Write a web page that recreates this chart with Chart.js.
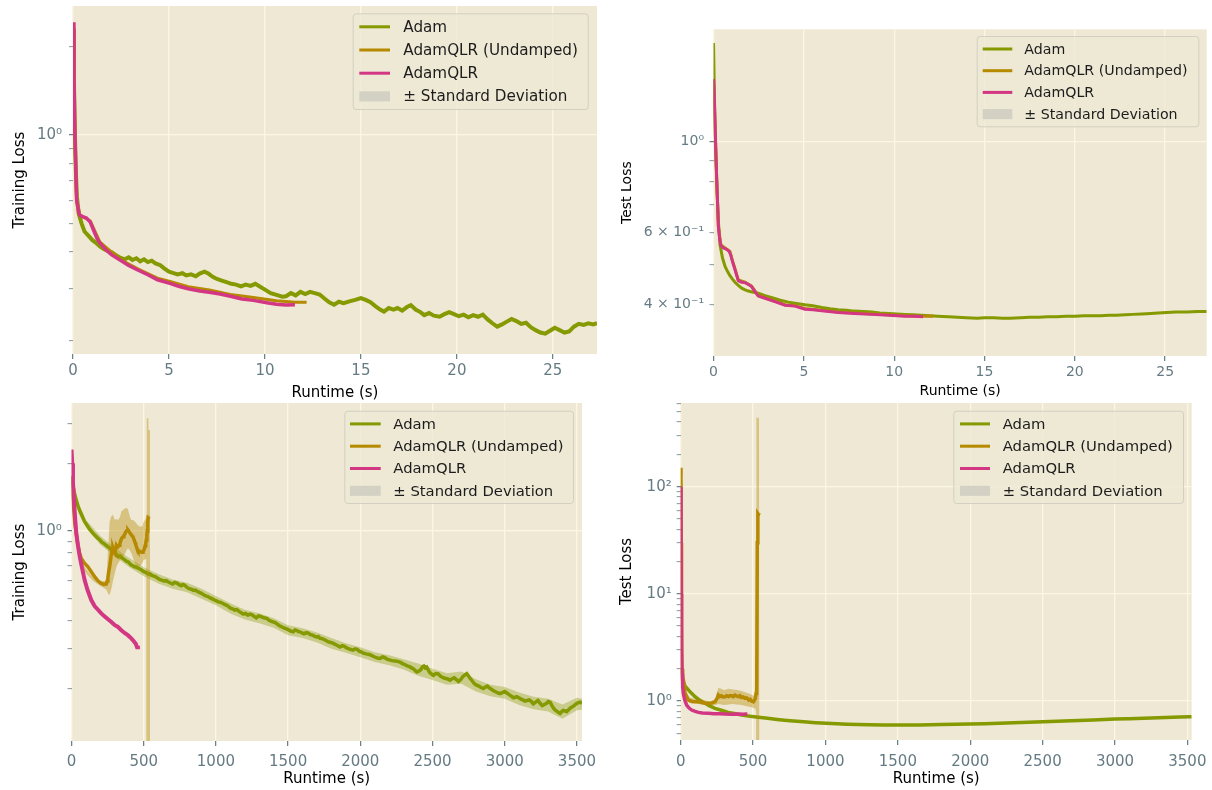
<!DOCTYPE html>
<html>
<head>
<meta charset="utf-8">
<script src="https://cdn.jsdelivr.net/npm/chart.js@4.4.1/dist/chart.umd.min.js"></script>
<style>
  body { margin: 0; background: #fff; width: 1212px; height: 790px; position: relative; overflow: hidden; }
  canvas { position: absolute; }
</style>
</head>
<body>
<script>
'use strict';

// Series names and colours (Solarize palette)
const SERIES = ['Adam', 'AdamQLR (Undamped)', 'AdamQLR'];
const LINE_COLORS = ['#859900', '#b58900', '#d33682'];
const BAND_COLORS = ['rgba(133, 153, 0, 0.35)', 'rgba(181, 137, 0, 0.4)', 'rgba(211, 54, 130, 0.3)'];
const STD_LABEL = '± Standard Deviation';
const STD_COLOR = '#d3d0c4';
const FONT = "'DejaVu Sans', sans-serif";
const TICK_COLOR = '#657b83';
const GRID_COLOR = '#fdf6e3';
const PLOT_BG = '#eee8d5';
const X_TITLE = 'Runtime (s)';

// ---- Axis ticks ----
const shortXTicks = [0, 5, 10, 15, 20, 25];
const longXTicks = [0, 500, 1000, 1500, 2000, 2500, 3000, 3500];

const p1YTicks = [0.2, 0.3, 0.4, 0.5, 0.6, 0.7, 0.8, 0.9, 1, 2];
const p1YLabels = ['', '', '', '', '', '', '', '', '10⁰', ''];
const p2YTicks = [0.4, 0.5, 0.6, 0.7, 0.8, 0.9, 1];
const p2YLabels = ['4 × 10⁻¹', '', '6 × 10⁻¹', '', '', '', '10⁰'];
const p3YTicks = [0.2, 0.3, 0.4, 0.5, 0.6, 0.7, 0.8, 0.9, 1, 2, 3];
const p3YLabels = ['', '', '', '', '', '', '', '', '10⁰', '', ''];
const p4YTicks = [0.5, 0.6, 0.7, 0.8, 0.9, 1, 2, 3, 4, 5, 6, 7, 8, 9, 10, 20, 30, 40, 50, 60, 70, 80, 90, 100, 200, 300, 400, 500, 600];
const p4YLabels = ['', '', '', '', '', '10⁰', '', '', '', '', '', '', '', '', '10¹', '', '', '', '', '', '', '', '', '10²', '', '', '', '', ''];
const gridAtOne = [1];
const gridDecades = [1, 10, 100];

// ---- Top-left: training loss, short run ([runtime, loss]) ----
const p1Adam = [[0,2.3],[0.05,1.5],[0.1,1.0],[0.15,0.75],[0.2,0.62],[0.3,0.54],[0.45,0.5],[0.6,0.47],[0.8,0.455],[1.0,0.44],[1.2,0.43],[1.4,0.418],[1.6,0.41],[1.8,0.404],[2.0,0.4],[2.2,0.392],[2.45,0.383],[2.7,0.378],[2.9,0.384],[3.1,0.376],[3.3,0.381],[3.5,0.372],[3.7,0.378],[3.9,0.37],[4.1,0.374],[4.3,0.366],[4.55,0.361],[4.75,0.352],[5.0,0.343],[5.2,0.34],[5.45,0.336],[5.7,0.339],[5.9,0.333],[6.15,0.336],[6.4,0.331],[6.6,0.338],[6.85,0.343],[7.05,0.338],[7.3,0.329],[7.5,0.324],[7.75,0.32],[8.0,0.316],[8.25,0.312],[8.5,0.31],[8.75,0.306],[9.0,0.31],[9.25,0.307],[9.5,0.312],[9.75,0.305],[10.0,0.298],[10.3,0.29],[10.6,0.286],[10.9,0.282],[11.1,0.283],[11.35,0.29],[11.6,0.285],[11.85,0.293],[12.1,0.288],[12.35,0.293],[12.6,0.29],[12.85,0.287],[13.1,0.278],[13.35,0.27],[13.6,0.265],[13.85,0.271],[14.1,0.268],[14.4,0.272],[14.7,0.275],[15.0,0.279],[15.25,0.275],[15.5,0.27],[15.75,0.262],[16.0,0.255],[16.2,0.251],[16.45,0.258],[16.7,0.255],[16.9,0.258],[17.15,0.253],[17.4,0.26],[17.6,0.264],[17.85,0.255],[18.1,0.25],[18.3,0.244],[18.55,0.248],[18.8,0.243],[19.1,0.241],[19.35,0.246],[19.6,0.25],[19.85,0.246],[20.1,0.242],[20.35,0.245],[20.6,0.24],[20.85,0.244],[21.1,0.241],[21.35,0.245],[21.6,0.236],[21.85,0.229],[22.1,0.223],[22.35,0.227],[22.6,0.232],[22.85,0.237],[23.1,0.233],[23.35,0.228],[23.6,0.23],[23.85,0.222],[24.1,0.217],[24.35,0.213],[24.6,0.211],[24.85,0.216],[25.1,0.221],[25.35,0.217],[25.6,0.213],[25.85,0.215],[26.1,0.223],[26.35,0.228],[26.6,0.226],[26.85,0.229],[27.1,0.227],[27.3,0.229]];
const p1Undamped = [[0,2.3],[0.1,0.98],[0.19,0.6],[0.36,0.535],[0.9,0.51],[1.41,0.432],[2.45,0.378],[3.4,0.35],[4.4,0.326],[5.05,0.318],[6.0,0.305],[7.1,0.297],[8.2,0.287],[9.4,0.28],[10.6,0.273],[11.56,0.27],[12.17,0.27]];
const p1Qlr = [[0,2.42],[0.05,1.6],[0.1,1.0],[0.19,0.6],[0.3,0.545],[0.36,0.534],[0.5,0.528],[0.7,0.522],[0.9,0.506],[1.1,0.47],[1.25,0.445],[1.41,0.429],[1.7,0.408],[2.0,0.392],[2.45,0.376],[2.9,0.36],[3.4,0.347],[3.9,0.335],[4.4,0.322],[5.05,0.313],[5.5,0.306],[6.0,0.3],[6.6,0.295],[7.1,0.292],[7.66,0.288],[8.2,0.283],[8.8,0.277],[9.4,0.274],[10.1,0.269],[10.6,0.266],[11.1,0.264],[11.56,0.265]];

// ---- Top-right: test loss, short run ----
const p2Adam = [[0,1.74],[0.05,1.3],[0.1,1.0],[0.2,0.75],[0.28,0.63],[0.36,0.56],[0.5,0.52],[0.64,0.496],[0.78,0.482],[0.91,0.471],[1.05,0.462],[1.19,0.454],[1.37,0.446],[1.56,0.439],[1.75,0.435],[1.93,0.432],[2.2,0.429],[2.48,0.427],[2.85,0.421],[3.2,0.417],[3.65,0.411],[4.14,0.406],[4.6,0.403],[5.06,0.4],[5.5,0.398],[6.0,0.394],[6.45,0.391],[6.9,0.389],[7.35,0.388],[7.8,0.386],[8.3,0.385],[8.76,0.384],[9.2,0.382],[9.7,0.381],[10.15,0.38],[10.6,0.379],[11.05,0.378],[11.5,0.377],[12.0,0.376],[12.4,0.375],[13.0,0.374],[13.5,0.373],[14.0,0.372],[14.6,0.371],[15.0,0.372],[15.5,0.372],[16.0,0.371],[16.4,0.371],[17.0,0.372],[17.5,0.373],[18.0,0.373],[18.5,0.374],[19.0,0.374],[19.5,0.375],[20.0,0.375],[20.5,0.376],[21.0,0.376],[21.4,0.376],[21.9,0.377],[22.3,0.377],[22.8,0.378],[23.2,0.379],[23.7,0.38],[24.2,0.381],[24.6,0.382],[25.1,0.383],[25.6,0.384],[26.2,0.384],[26.8,0.385],[27.3,0.385]];
const p2Undamped = [[0,1.42],[0.1,1.05],[0.18,0.806],[0.27,0.621],[0.41,0.56],[0.7,0.548],[0.91,0.54],[1.05,0.512],[1.19,0.49],[1.37,0.46],[1.74,0.454],[2.11,0.444],[2.48,0.421],[2.85,0.416],[3.4,0.408],[3.96,0.4],[4.51,0.398],[5.06,0.392],[6.0,0.388],[6.9,0.384],[7.8,0.382],[8.76,0.38],[9.7,0.378],[10.6,0.376],[11.6,0.375],[12.15,0.375]];
const p2Qlr = [[0,1.42],[0.04,1.3],[0.1,1.05],[0.18,0.806],[0.27,0.621],[0.35,0.575],[0.41,0.558],[0.55,0.55],[0.7,0.547],[0.85,0.541],[0.95,0.53],[1.05,0.51],[1.19,0.487],[1.37,0.458],[1.55,0.454],[1.74,0.453],[1.95,0.448],[2.11,0.443],[2.3,0.43],[2.48,0.42],[2.85,0.415],[3.4,0.407],[3.96,0.399],[4.51,0.397],[5.06,0.39],[5.5,0.389],[6.0,0.387],[6.9,0.383],[7.8,0.381],[8.76,0.379],[9.7,0.377],[10.6,0.375],[11.1,0.375],[11.6,0.374]];

// ---- Bottom-left: training loss, long run ----
const p3Adam = [[0,1.75],[10,1.6],[20,1.47],[33,1.37],[45,1.29],[60,1.22],[75,1.16],[91,1.1],[108,1.06],[125,1.02],[142,0.99],[160,0.96],[178,0.935],[195,0.915],[212,0.89],[230,0.875],[248,0.855],[265,0.84],[278,0.826],[290,0.81],[305,0.795],[322,0.77],[336,0.775],[350,0.76],[365,0.748],[380,0.735],[395,0.728],[410,0.71],[424,0.702],[437,0.694],[452,0.69],[470,0.68],[485,0.672],[500,0.66],[515,0.655],[530,0.645],[542,0.646],[553,0.637],[566,0.632],[580,0.628],[595,0.618],[610,0.61],[625,0.606],[640,0.6],[655,0.602],[668,0.595],[684,0.588],[700,0.582],[715,0.592],[730,0.588],[745,0.578],[760,0.572],[772,0.579],[784,0.575],[800,0.562],[815,0.555],[830,0.552],[845,0.545],[858,0.547],[870,0.54],[885,0.534],[899,0.529],[915,0.522],[930,0.515],[945,0.512],[960,0.505],[975,0.5],[990,0.494],[1003,0.49],[1015,0.485],[1030,0.483],[1045,0.478],[1060,0.472],[1075,0.468],[1088,0.462],[1100,0.455],[1115,0.452],[1130,0.446],[1145,0.448],[1160,0.44],[1175,0.434],[1190,0.428],[1205,0.431],[1222,0.423],[1236,0.428],[1250,0.425],[1265,0.417],[1280,0.412],[1295,0.42],[1310,0.418],[1330,0.412],[1352,0.41],[1366,0.403],[1380,0.398],[1395,0.395],[1410,0.392],[1425,0.386],[1440,0.38],[1455,0.376],[1470,0.372],[1485,0.369],[1500,0.365],[1518,0.36],[1536,0.357],[1548,0.364],[1560,0.362],[1570,0.358],[1582,0.357],[1596,0.353],[1610,0.35],[1625,0.354],[1640,0.352],[1655,0.347],[1670,0.345],[1685,0.341],[1700,0.338],[1710,0.34],[1721,0.334],[1735,0.333],[1750,0.33],[1765,0.326],[1780,0.322],[1795,0.32],[1810,0.318],[1822,0.315],[1835,0.312],[1847,0.309],[1859,0.306],[1875,0.31],[1890,0.308],[1905,0.303],[1920,0.3],[1935,0.298],[1950,0.296],[1965,0.3],[1980,0.298],[1992,0.293],[2005,0.291],[2022,0.287],[2040,0.285],[2055,0.284],[2070,0.282],[2085,0.279],[2100,0.276],[2118,0.273],[2137,0.272],[2153,0.276],[2170,0.274],[2185,0.27],[2200,0.268],[2220,0.266],[2240,0.265],[2258,0.264],[2275,0.262],[2292,0.258],[2310,0.255],[2325,0.252],[2340,0.25],[2355,0.247],[2370,0.244],[2381,0.24],[2391,0.237],[2405,0.239],[2420,0.243],[2430,0.25],[2440,0.252],[2450,0.247],[2460,0.249],[2470,0.242],[2480,0.236],[2493,0.232],[2506,0.229],[2522,0.233],[2540,0.232],[2555,0.227],[2570,0.224],[2585,0.222],[2600,0.221],[2610,0.22],[2621,0.218],[2635,0.221],[2650,0.223],[2665,0.219],[2680,0.215],[2695,0.219],[2710,0.226],[2724,0.23],[2737,0.233],[2748,0.228],[2760,0.222],[2775,0.216],[2790,0.21],[2805,0.207],[2820,0.205],[2836,0.202],[2852,0.2],[2866,0.203],[2880,0.205],[2895,0.201],[2910,0.198],[2925,0.195],[2940,0.193],[2955,0.191],[2967,0.19],[2983,0.192],[3000,0.194],[3015,0.191],[3030,0.188],[3045,0.185],[3060,0.182],[3072,0.183],[3083,0.184],[3097,0.182],[3110,0.18],[3125,0.178],[3140,0.176],[3155,0.177],[3170,0.178],[3185,0.175],[3198,0.171],[3214,0.174],[3230,0.177],[3245,0.172],[3260,0.168],[3275,0.17],[3290,0.172],[3302,0.175],[3314,0.174],[3327,0.168],[3340,0.163],[3352,0.16],[3365,0.158],[3375,0.156],[3383,0.155],[3395,0.158],[3405,0.16],[3418,0.159],[3429,0.158],[3442,0.161],[3455,0.164],[3468,0.166],[3480,0.168],[3490,0.17],[3500,0.172],[3510,0.173],[3521,0.174],[3535,0.172]];
// [runtime, lower, upper]
const p3AdamBand = [[0,1.7,1.8],[50,1.2,1.32],[100,1.04,1.12],[200,0.87,0.95],[300,0.77,0.84],[400,0.69,0.76],[500,0.63,0.69],[600,0.585,0.645],[700,0.555,0.61],[800,0.535,0.59],[900,0.5,0.555],[1000,0.468,0.515],[1100,0.43,0.478],[1200,0.405,0.447],[1300,0.39,0.432],[1400,0.372,0.41],[1500,0.345,0.382],[1600,0.335,0.37],[1700,0.32,0.355],[1800,0.3,0.335],[1900,0.288,0.318],[2000,0.275,0.305],[2100,0.262,0.29],[2200,0.254,0.281],[2300,0.243,0.27],[2400,0.228,0.258],[2500,0.218,0.245],[2600,0.208,0.234],[2700,0.21,0.238],[2800,0.194,0.22],[2900,0.185,0.208],[3000,0.18,0.203],[3100,0.169,0.192],[3200,0.162,0.184],[3300,0.158,0.18],[3400,0.147,0.17],[3500,0.16,0.182],[3535,0.161,0.18]];
const p3Undamped = [[0,1.75],[10,1.4],[22,1.1],[40,0.9],[55,0.8],[68,0.756],[90,0.72],[114,0.694],[137,0.66],[160,0.627],[185,0.6],[206,0.586],[225,0.58],[241,0.582],[247,0.6],[252,0.62],[258,0.66],[264,0.694],[270,0.74],[275,0.78],[281,0.82],[287,0.838],[293,0.815],[300,0.8],[305,0.83],[310,0.86],[316,0.845],[322,0.851],[329,0.865],[335,0.88],[340,0.9],[345,0.92],[351,0.935],[357,0.943],[363,0.955],[370,0.97],[375,0.99],[380,1.0],[385,1.005],[391,1.01],[398,0.995],[405,0.98],[410,0.97],[415,0.96],[420,0.95],[426,0.943],[433,0.915],[440,0.89],[445,0.87],[450,0.85],[455,0.835],[460,0.823],[467,0.815],[475,0.81],[482,0.806],[490,0.805],[495,0.81],[500,0.82],[505,0.835],[510,0.86],[514,0.88],[518,0.912],[522,0.96],[525,1.0],[528,1.08],[531,1.158],[533,1.16]];
const p3UndampedBand = [[0,1.7,1.8],[30,0.93,1.0],[60,0.72,0.75],[100,0.65,0.68],[150,0.6,0.62],[200,0.57,0.6],[241,0.55,0.6],[252,0.53,0.8],[264,0.52,1.1],[275,0.55,1.16],[287,0.6,1.18],[300,0.65,1.12],[310,0.69,1.13],[322,0.718,1.12],[335,0.74,1.15],[345,0.76,1.22],[357,0.769,1.24],[370,0.79,1.26],[380,0.82,1.27],[391,0.838,1.25],[405,0.82,1.15],[415,0.796,1.12],[426,0.76,1.12],[440,0.718,1.1],[450,0.7,1.08],[460,0.694,1.06],[475,0.7,1.045],[490,0.72,1.05],[500,0.743,1.1],[510,0.75,1.12],[518,0.75,1.15],[521,0.01,3.17],[532,0.01,3.17],[533,0.01,2.81],[544,0.01,2.81]];
const p3Qlr = [[0,2.3],[5,2.0],[10,1.65],[17,1.37],[25,1.14],[33,0.98],[45,0.86],[57,0.77],[70,0.7],[91,0.606],[110,0.55],[137,0.494],[160,0.465],[185,0.446],[206,0.431],[230,0.418],[255,0.405],[276,0.395],[300,0.382],[320,0.376],[345,0.363],[370,0.352],[390,0.345],[414,0.334],[430,0.325],[445,0.316],[454,0.305],[460,0.31]];

// ---- Bottom-right: test loss, long run ----
const p4Adam = [[0,2.0],[5,1.8],[11,1.57],[30,1.38],[53,1.27],[75,1.18],[99,1.097],[130,1.02],[168,0.952],[200,0.9],[237,0.855],[280,0.82],[329,0.784],[380,0.76],[421,0.74],[480,0.72],[536,0.705],[600,0.69],[680,0.67],[755,0.655],[850,0.64],[930,0.628],[1008,0.619],[1150,0.607],[1300,0.6],[1400,0.598],[1514,0.597],[1650,0.598],[1800,0.603],[1900,0.606],[1998,0.61],[2100,0.615],[2200,0.622],[2350,0.63],[2504,0.641],[2600,0.648],[2700,0.655],[2850,0.667],[2999,0.679],[3100,0.685],[3200,0.692],[3350,0.703],[3450,0.709],[3517,0.714],[3530,0.715]];
const p4Undamped = [[0,150],[2,120],[4,30],[6,5],[9,2.0],[14,1.7],[22,1.5],[30,1.18],[53,1.02],[80,0.99],[122,0.985],[160,0.96],[191,0.952],[215,0.96],[237,0.985],[250,1.05],[260,1.137],[270,1.1],[280,1.12],[292,1.09],[306,1.097],[318,1.12],[330,1.1],[340,1.12],[350,1.12],[362,1.1],[375,1.137],[388,1.11],[400,1.1],[410,1.12],[420,1.08],[432,1.09],[444,1.06],[456,1.07],[470,1.02],[480,1.04],[490,1.0],[502,0.985],[510,1.02],[515,1.05],[521,1.18],[525,1.3],[529,30],[533,56],[537,55],[541,57]];
const p4UndampedBand = [[0,140,180],[3,20,100],[6,3,8],[10,1.6,2.2],[30,1.1,1.3],[60,0.96,1.08],[120,0.94,1.04],[200,0.91,1.0],[240,0.92,1.02],[250,0.93,1.2],[260,0.94,1.33],[280,0.93,1.3],[300,0.92,1.26],[330,0.93,1.3],[360,0.94,1.28],[390,0.93,1.27],[420,0.92,1.24],[450,0.9,1.2],[480,0.88,1.16],[505,0.86,1.12],[515,0.85,1.2],[521,0.8,1.4],[523,0.01,440],[537,0.01,440],[541,0.01,430],[545,0.01,430]];
const p4Qlr = [[0,100],[2,40],[4,10],[6,3],[9,1.8],[13,1.4],[18,1.18],[28,1.02],[41,0.918],[58,0.86],[76,0.824],[100,0.8],[122,0.784],[150,0.775],[191,0.768],[230,0.762],[270,0.76],[306,0.756],[350,0.754],[400,0.756],[430,0.753],[456,0.756],[460,0.755]];

// Helpers
function toPoints(rows, col) {
    return rows.map((r) => ({ x: r[0], y: r[col || 1] }));
}

function lineDataset(i, rows, width) {
    return {
        label: SERIES[i],
        inLegend: true,
        data: toPoints(rows),
        borderColor: LINE_COLORS[i],
        backgroundColor: LINE_COLORS[i],
        borderWidth: width,
        pointRadius: 0,
        tension: 0,
        fill: false,
        order: 3 - i,
    };
}

function addBand(sets, i, rows, order) {
    const lowIdx = sets.length;
    sets.push({
        data: toPoints(rows, 1),
        borderColor: 'rgba(0,0,0,0)',
        borderWidth: 1,
        pointRadius: 0,
        fill: false,
        order: order,
    });
    sets.push({
        data: toPoints(rows, 2),
        borderColor: 'rgba(0,0,0,0)',
        borderWidth: 1,
        pointRadius: 0,
        backgroundColor: BAND_COLORS[i],
        fill: lowIdx,
        order: order,
    });
}

// Plot background
const plotBg = {
    id: 'plotBg',
    beforeDraw(chart) {
        const a = chart.chartArea;
        const ctx = chart.ctx;
        ctx.save();
        ctx.fillStyle = PLOT_BG;
        ctx.fillRect(a.left, a.top, a.right - a.left, a.bottom - a.top);
        ctx.restore();
    },
};

// Legend box inside the plot, drawn from the chart's datasets
const boxLegend = {
    id: 'boxLegend',
    afterDraw(chart, args, o) {
        const ctx = chart.ctx;
        const rows = chart.data.datasets
            .filter((d) => d.inLegend)
            .map((d) => ({ text: d.label, color: d.borderColor, patch: false }));
        rows.push({ text: STD_LABEL, color: STD_COLOR, patch: true });

        const x0 = o.left + 0.5, y0 = o.top + 0.5, w = o.w - 1, h = o.h - 1, r = 3;
        ctx.save();
        ctx.beginPath();
        ctx.moveTo(x0 + r, y0);
        ctx.arcTo(x0 + w, y0, x0 + w, y0 + h, r);
        ctx.arcTo(x0 + w, y0 + h, x0, y0 + h, r);
        ctx.arcTo(x0, y0 + h, x0, y0, r);
        ctx.arcTo(x0, y0, x0 + w, y0, r);
        ctx.closePath();
        ctx.fillStyle = 'rgba(238, 232, 213, 0.8)';
        ctx.fill();
        ctx.lineWidth = 1;
        ctx.strokeStyle = '#d3cfc2';
        ctx.stroke();

        ctx.font = `${o.font}px ${FONT}`;
        ctx.textBaseline = 'middle';
        ctx.textAlign = 'left';
        rows.forEach((row, k) => {
            const cy = o.top + o.first + k * o.gap;
            ctx.fillStyle = row.color;
            const mh = row.patch ? 10 : 3;
            ctx.fillRect(o.left + o.markX, cy - mh / 2, o.markW, mh);
            ctx.fillStyle = '#1c1c1c';
            ctx.fillText(row.text, o.left + o.textX, cy + 1);
        });
        ctx.restore();
    },
};

function makePanel(p) {
    const canvas = document.createElement('canvas');
    canvas.width = p.w;
    canvas.height = p.h;
    canvas.style.left = p.left + 'px';
    canvas.style.top = p.top + 'px';
    document.body.appendChild(canvas);

    const tickFont = { family: FONT, size: p.tickFont };
    const titleFont = { family: FONT, size: p.titleFont };
    const legendOpts = Object.assign({}, p.legend, { left: p.legend.left - p.left, top: p.legend.top - p.top });

    return new Chart(canvas, {
        type: 'line',
        data: { datasets: p.datasets },
        plugins: [plotBg, boxLegend],
        options: {
            responsive: false,
            animation: false,
            events: [],
            layout: { padding: { left: 0, top: p.area.t, right: p.w - p.area.r, bottom: 0 } },
            plugins: {
                legend: { display: false },
                tooltip: { enabled: false },
                boxLegend: legendOpts,
            },
            scales: {
                x: {
                    type: 'linear',
                    min: 0,
                    max: p.xMax,
                    afterBuildTicks: (s) => {
                        s.ticks = p.xTicks.map((v) => ({ value: v }));
                    },
                    afterFit: (s) => {
                        s.height = p.h - p.area.b;
                        s.paddingLeft = 0;
                        s.paddingRight = 0;
                    },
                    ticks: {
                        autoSkip: false,
                        maxRotation: 0,
                        minRotation: 0,
                        color: TICK_COLOR,
                        font: tickFont,
                        padding: p.xTickPad,
                        callback: (v) => String(v),
                    },
                    grid: { color: GRID_COLOR, lineWidth: 1.3, tickColor: TICK_COLOR, tickLength: 5, tickWidth: 1.2 },
                    border: { display: false },
                    title: { display: true, text: X_TITLE, color: '#000', font: titleFont, padding: { top: 0, bottom: p.xTitlePad } },
                },
                y: {
                    type: 'logarithmic',
                    min: p.yMin,
                    max: p.yMax,
                    afterBuildTicks: (s) => {
                        s.ticks = p.yTicks.map((v) => ({ value: v }));
                    },
                    afterFit: (s) => {
                        s.width = p.area.l;
                        s.paddingTop = 0;
                        s.paddingBottom = 0;
                    },
                    ticks: {
                        autoSkip: false,
                        color: TICK_COLOR,
                        font: tickFont,
                        padding: p.yTickPad,
                        callback: (v) => p.yLabels[p.yTicks.indexOf(v)] || '',
                    },
                    grid: {
                        color: (c) => (c.tick && p.yGrid.includes(c.tick.value) ? GRID_COLOR : 'rgba(0,0,0,0)'),
                        lineWidth: 1.3,
                        tickColor: TICK_COLOR,
                        tickLength: 4,
                        tickWidth: (c) => (c.tick && p.yGrid.includes(c.tick.value) ? 1.2 : 0.8),
                    },
                    border: { display: false },
                    title: { display: true, text: p.yTitle, color: '#000', font: titleFont, padding: { top: p.yTitlePad, bottom: 0 } },
                },
            },
        },
    });
}

// Datasets per panel
const p1Sets = [lineDataset(0, p1Adam, 4), lineDataset(1, p1Undamped, 3), lineDataset(2, p1Qlr, 3.5)];
const p2Sets = [lineDataset(0, p2Adam, 3), lineDataset(1, p2Undamped, 3), lineDataset(2, p2Qlr, 3)];
const p3Sets = [lineDataset(0, p3Adam, 3.5), lineDataset(1, p3Undamped, 3.5), lineDataset(2, p3Qlr, 4)];
addBand(p3Sets, 0, p3AdamBand, 3.5);
addBand(p3Sets, 1, p3UndampedBand, 2.5);
const p4Sets = [lineDataset(0, p4Adam, 3.5), lineDataset(1, p4Undamped, 3.5), lineDataset(2, p4Qlr, 3.5)];
addBand(p4Sets, 1, p4UndampedBand, 2.5);

makePanel({
    id: 'p1', left: 0, top: 0, w: 606, h: 402,
    area: { l: 73, t: 6, r: 597, b: 354 },
    xMax: 27.3, xTicks: shortXTicks,
    yMin: 0.18, yMax: 2.75, yTicks: p1YTicks, yLabels: p1YLabels, yGrid: gridAtOne,
    yTitle: 'Training Loss',
    tickFont: 15, titleFont: 15, xTickPad: 3, yTickPad: 7, xTitlePad: 0, yTitlePad: 11,
    datasets: p1Sets,
    legend: { left: 352.7, top: 13.3, w: 236, h: 96.7, first: 13.5, gap: 23.2, markX: 6.6, markW: 30.7, textX: 50.6, font: 15.2 },
});

makePanel({
    id: 'p2', left: 606, top: 0, w: 606, h: 402,
    area: { l: 107.5, t: 29.3, r: 600.7, b: 356 },
    xMax: 27.3, xTicks: shortXTicks,
    yMin: 0.342, yMax: 1.879, yTicks: p2YTicks, yLabels: p2YLabels, yGrid: gridAtOne,
    yTitle: 'Test Loss',
    tickFont: 14, titleFont: 14, xTickPad: 3, yTickPad: 5.5, xTitlePad: 2.6, yTitlePad: 13.1,
    datasets: p2Sets,
    legend: { left: 976.7, top: 36, w: 222.6, h: 91.3, first: 13, gap: 21.7, markX: 6, markW: 29.6, textX: 47.6, font: 14.2 },
});

makePanel({
    id: 'p3', left: 0, top: 400, w: 606, h: 390,
    area: { l: 71.5, t: 3, r: 582, b: 341 },
    xMax: 3535, xTicks: longXTicks,
    yMin: 0.117, yMax: 3.7, yTicks: p3YTicks, yLabels: p3YLabels, yGrid: gridAtOne,
    yTitle: 'Training Loss',
    tickFont: 15, titleFont: 15, xTickPad: 7.5, yTickPad: 5.8, xTitlePad: 2, yTitlePad: 11,
    datasets: p3Sets,
    legend: { left: 344.3, top: 410.7, w: 229.7, h: 93.3, first: 13.2, gap: 22.3, markX: 5.7, markW: 30.7, textX: 49, font: 14.8 },
});

makePanel({
    id: 'p4', left: 606, top: 400, w: 606, h: 390,
    area: { l: 74.7, t: 3, r: 585.7, b: 340 },
    xMax: 3530, xTicks: longXTicks,
    yMin: 0.433, yMax: 603, yTicks: p4YTicks, yLabels: p4YLabels, yGrid: gridDecades,
    yTitle: 'Test Loss',
    tickFont: 15, titleFont: 15, xTickPad: 8.5, yTickPad: 5, xTitlePad: 2, yTitlePad: 12.5,
    datasets: p4Sets,
    legend: { left: 953.3, top: 410.7, w: 230.7, h: 93.3, first: 13.2, gap: 22.3, markX: 6.7, markW: 30, textX: 49.4, font: 14.8 },
});
</script>
</body>
</html>
